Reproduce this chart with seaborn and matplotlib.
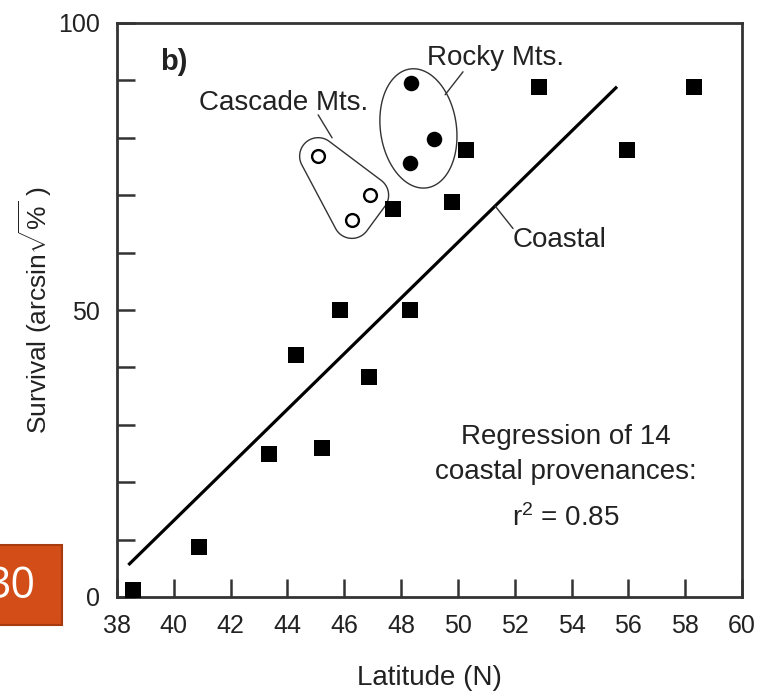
import numpy as np
import pandas as pd
import matplotlib
matplotlib.use("Agg")
import matplotlib.pyplot as plt
import seaborn as sns
from matplotlib.patches import Polygon, Rectangle

# Provenance survival vs. latitude
coastal_lat = [38.56, 40.89, 43.35, 44.30, 45.22, 45.85, 46.87, 48.32, 47.72, 49.80, 50.29, 52.86, 55.96, 58.32]
coastal_surv = [1.2, 8.7, 24.9, 42.2, 26.0, 50.0, 38.3, 50.0, 67.6, 68.8, 77.9, 88.9, 77.9, 88.9]
rocky_lat = [48.35, 49.16, 48.32]
rocky_surv = [89.5, 79.8, 75.6]
cascade_lat = [45.08, 46.91, 46.27]
cascade_surv = [76.8, 70.0, 65.7]

x_ticks = list(range(38, 61, 2))
y_major = [0, 50, 100]
y_minor = [10, 20, 30, 40, 60, 70, 80, 90]
r_squared = 0.85
slide_number = "30"

coastal = pd.DataFrame({"lat": coastal_lat, "surv": coastal_surv})
rocky = pd.DataFrame({"lat": rocky_lat, "surv": rocky_surv})
cascade = pd.DataFrame({"lat": cascade_lat, "surv": cascade_surv})

sns.set_theme(style="white")
plt.rcParams["font.family"] = ["Liberation Sans", "DejaVu Sans"]
plt.rcParams["mathtext.fontset"] = "custom"
plt.rcParams["mathtext.rm"] = "Liberation Sans"
plt.rcParams["mathtext.it"] = "Liberation Sans:italic"
plt.rcParams["mathtext.bf"] = "Liberation Sans:bold"

INK = "#222222"
FS = 20
TICK_FS = 18

fig = plt.figure(figsize=(7.71, 6.92), dpi=100)
ax = fig.add_axes([117 / 771, 1 - 597 / 692, 625 / 771, 574 / 692])
ax.set_xlim(38, 60)
ax.set_ylim(0, 100)

# regression of the coastal provenances
slope, intercept = np.polyfit(coastal["lat"], coastal["surv"], 1)
x_fit = np.array([38.4, 55.6])
ax.plot(x_fit, slope * x_fit + intercept, color="black", lw=2.3, solid_capstyle="butt", zorder=2)

sns.scatterplot(data=coastal, x="lat", y="surv", marker="s", s=135, color="black",
                edgecolor="black", linewidth=0, ax=ax, zorder=3)
sns.scatterplot(data=rocky, x="lat", y="surv", marker="o", s=125, color="black",
                edgecolor="black", linewidth=0, ax=ax, zorder=3)
sns.scatterplot(data=cascade, x="lat", y="surv", marker="o", s=85, color="white",
                edgecolor="black", linewidth=1.7, ax=ax, zorder=3)

# axes frame and inward ticks
for sp in ax.spines.values():
    sp.set_visible(True)
    sp.set_color("#333333")
    sp.set_linewidth(2.0)
ax.set_xticks(x_ticks)
ax.set_xticklabels([str(t) for t in x_ticks])
ax.set_yticks(y_major)
ax.set_yticklabels([str(t) for t in y_major])
ax.set_yticks(y_minor, minor=True)
ax.tick_params(axis="both", which="both", direction="in", length=13, width=1.8,
               color="#333333", labelsize=TICK_FS, labelcolor=INK, pad=12,
               bottom=True, left=True, top=False, right=False)
ax.tick_params(axis="x", which="minor", bottom=False)

ax.set_xlabel("Latitude (N)", fontsize=FS, color=INK, va="top")
ax.set_ylabel(r"Survival (arcsin$\sqrt{\%}$ )", fontsize=19, color=INK)
ax.xaxis.set_label_coords(0.5, -0.118)
ax.yaxis.set_label_coords(-0.100, 0.5)


def to_disp(xs, ys):
    return ax.transData.transform(np.column_stack([xs, ys]))


def to_data(pts):
    return ax.transData.inverted().transform(pts)


def rounded_hull(pts, r, n=72):
    ang = np.linspace(0, 2 * np.pi, n, endpoint=False)
    ring = np.column_stack([np.cos(ang), np.sin(ang)]) * r
    cloud = np.concatenate([p + ring for p in pts])
    cloud = sorted(map(tuple, cloud))

    def cross(o, a, b):
        return (a[0] - o[0]) * (b[1] - o[1]) - (a[1] - o[1]) * (b[0] - o[0])

    lower, upper = [], []
    for p in cloud:
        while len(lower) >= 2 and cross(lower[-2], lower[-1], p) <= 0:
            lower.pop()
        lower.append(p)
    for p in reversed(cloud):
        while len(upper) >= 2 and cross(upper[-2], upper[-1], p) <= 0:
            upper.pop()
        upper.append(p)
    return np.array(lower[:-1] + upper[:-1])


# Cascade group outline
casc_disp = to_disp(cascade["lat"], cascade["surv"])
casc_outline = to_data(rounded_hull(casc_disp, 18.5))
ax.add_patch(Polygon(casc_outline, closed=True, fill=False, edgecolor="#333333", lw=1.0, zorder=2))

# Rocky group outline
centre = to_disp([rocky["lat"].mean()], [rocky["surv"].mean()])[0]
t = np.linspace(0, 2 * np.pi, 200)
phi = np.deg2rad(8)
ex, ey = 38 * np.cos(t), 60 * np.sin(t)
ell = np.column_stack([ex * np.cos(phi) - ey * np.sin(phi), ex * np.sin(phi) + ey * np.cos(phi)]) + centre
ax.add_patch(Polygon(to_data(ell), closed=True, fill=False, edgecolor="#333333", lw=1.0, zorder=2))

# labels and leaders
ax.text(39.51, 93.2, "b)", fontsize=21, fontweight="bold", color=INK, ha="left", va="center")
ax.text(43.85, 86.1, "Cascade Mts.", fontsize=FS, color=INK, ha="center", va="center")
ax.plot([45.08, 45.57], [84.0, 80.0], color="#333333", lw=1.0)
ax.text(48.92, 93.9, "Rocky Mts.", fontsize=FS, color=INK, ha="left", va="center")
ax.plot([50.18, 49.55], [91.5, 87.5], color="#333333", lw=1.0)
ax.text(51.94, 62.2, "Coastal", fontsize=FS, color=INK, ha="left", va="center")
ax.plot([51.31, 51.94], [slope * 51.31 + intercept, 64.2], color="#333333", lw=1.0)

ax.text(53.81, 27.9, "Regression of 14", fontsize=FS, color=INK, ha="center", va="center")
ax.text(53.81, 21.8, "coastal provenances:", fontsize=FS, color=INK, ha="center", va="center")
ax.text(53.81, 13.8, r"r$^{2}$ = " + f"{r_squared:.2f}", fontsize=FS, color=INK, ha="center", va="center")

# slide number badge
fig.add_artist(Rectangle((-0.01, 1 - 625 / 692), 62 / 771 + 0.01, 80 / 692, transform=fig.transFigure,
                         facecolor="#D24D17", edgecolor="#A83A10", lw=1.5))
fig.text(35 / 771, 1 - 598 / 692, slide_number, color="white", fontsize=31,
         family="Open Sans", ha="right", va="baseline")

fig.savefig("out.png", dpi=100)
